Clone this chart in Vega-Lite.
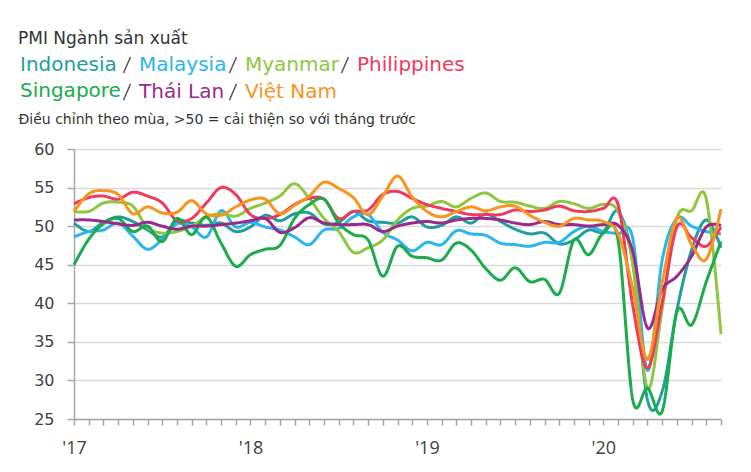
{
  "$schema": "https://vega.github.io/schema/vega-lite/v6.json",
  "width": 647,
  "height": 270,
  "autosize": {"type": "none"},
  "padding": {"left": 74, "top": 149, "right": 30, "bottom": 53},
  "background": "white",
  "title": {"text": "PMI Ngành sản xuất", "anchor": "start", "frame": "group", "dx": -56, "font": "DejaVu Sans", "fontSize": 17, "fontWeight": "normal", "color": "#333333", "offset": 7},
  "data": {"values": [
    {"month": "2017-01", "Indonesia": 50.4, "Malaysia": 48.6, "Myanmar": 51.9, "Philippines": 52.9, "Singapore": 45.0, "Thái Lan": 50.8, "Việt Nam": 51.9},
    {"month": "2017-02", "Indonesia": 49.3, "Malaysia": 49.3, "Myanmar": 51.9, "Philippines": 53.7, "Singapore": 48.3, "Thái Lan": 50.8, "Việt Nam": 54.2},
    {"month": "2017-03", "Indonesia": 50.5, "Malaysia": 49.5, "Myanmar": 53.0, "Philippines": 53.9, "Singapore": 50.3, "Thái Lan": 50.6, "Việt Nam": 54.6},
    {"month": "2017-04", "Indonesia": 51.2, "Malaysia": 50.4, "Myanmar": 53.1, "Philippines": 53.5, "Singapore": 51.0, "Thái Lan": 50.3, "Việt Nam": 54.1},
    {"month": "2017-05", "Indonesia": 50.6, "Malaysia": 48.7, "Myanmar": 52.6, "Philippines": 54.4, "Singapore": 49.3, "Thái Lan": 50.1, "Việt Nam": 51.6},
    {"month": "2017-06", "Indonesia": 49.5, "Malaysia": 47.0, "Myanmar": 49.8, "Philippines": 53.9, "Singapore": 50.0, "Thái Lan": 50.5, "Việt Nam": 52.5},
    {"month": "2017-07", "Indonesia": 48.6, "Malaysia": 48.3, "Myanmar": 49.1, "Philippines": 53.0, "Singapore": 48.0, "Thái Lan": 50.0, "Việt Nam": 51.7},
    {"month": "2017-08", "Indonesia": 50.7, "Malaysia": 50.3, "Myanmar": 49.3, "Philippines": 50.7, "Singapore": 51.0, "Thái Lan": 49.6, "Việt Nam": 51.8},
    {"month": "2017-09", "Indonesia": 50.4, "Malaysia": 49.9, "Myanmar": 50.0, "Philippines": 51.0, "Singapore": 48.9, "Thái Lan": 50.0, "Việt Nam": 53.3},
    {"month": "2017-10", "Indonesia": 50.1, "Malaysia": 48.6, "Myanmar": 51.2, "Philippines": 53.0, "Singapore": 51.2, "Thái Lan": 50.0, "Việt Nam": 51.6},
    {"month": "2017-11", "Indonesia": 50.4, "Malaysia": 52.0, "Myanmar": 51.6, "Philippines": 55.0, "Singapore": 47.8, "Thái Lan": 50.2, "Việt Nam": 51.4},
    {"month": "2017-12", "Indonesia": 49.3, "Malaysia": 49.9, "Myanmar": 51.3, "Philippines": 54.1, "Singapore": 44.8, "Thái Lan": 50.4, "Việt Nam": 52.5},
    {"month": "2018-01", "Indonesia": 49.9, "Malaysia": 50.5, "Myanmar": 52.3, "Philippines": 51.5, "Singapore": 46.3, "Thái Lan": 50.7, "Việt Nam": 53.4},
    {"month": "2018-02", "Indonesia": 51.4, "Malaysia": 49.9, "Myanmar": 53.0, "Philippines": 51.0, "Singapore": 47.0, "Thái Lan": 51.0, "Việt Nam": 53.5},
    {"month": "2018-03", "Indonesia": 50.7, "Malaysia": 49.5, "Myanmar": 53.9, "Philippines": 51.5, "Singapore": 47.5, "Thái Lan": 49.2, "Việt Nam": 51.6},
    {"month": "2018-04", "Indonesia": 51.6, "Malaysia": 48.6, "Myanmar": 55.5, "Philippines": 52.8, "Singapore": 51.0, "Thái Lan": 49.8, "Việt Nam": 52.7},
    {"month": "2018-05", "Indonesia": 51.7, "Malaysia": 47.6, "Myanmar": 53.6, "Philippines": 53.6, "Singapore": 52.8, "Thái Lan": 51.1, "Việt Nam": 53.9},
    {"month": "2018-06", "Indonesia": 50.3, "Malaysia": 49.5, "Myanmar": 51.0, "Philippines": 53.5, "Singapore": 53.5, "Thái Lan": 50.4, "Việt Nam": 55.7},
    {"month": "2018-07", "Indonesia": 50.5, "Malaysia": 49.7, "Myanmar": 49.3, "Philippines": 51.0, "Singapore": 50.4, "Thái Lan": 50.2, "Việt Nam": 54.9},
    {"month": "2018-08", "Indonesia": 51.9, "Malaysia": 51.2, "Myanmar": 46.6, "Philippines": 51.9, "Singapore": 48.9, "Thái Lan": 50.2, "Việt Nam": 53.7},
    {"month": "2018-09", "Indonesia": 50.7, "Malaysia": 51.5, "Myanmar": 47.2, "Philippines": 52.1, "Singapore": 48.2, "Thái Lan": 50.2, "Việt Nam": 51.5},
    {"month": "2018-10", "Indonesia": 50.5, "Malaysia": 49.2, "Myanmar": 48.2, "Philippines": 54.1, "Singapore": 43.5, "Thái Lan": 49.3, "Việt Nam": 53.9},
    {"month": "2018-11", "Indonesia": 50.4, "Malaysia": 48.2, "Myanmar": 50.8, "Philippines": 54.5, "Singapore": 47.4, "Thái Lan": 50.0, "Việt Nam": 56.5},
    {"month": "2018-12", "Indonesia": 51.2, "Malaysia": 46.8, "Myanmar": 52.3, "Philippines": 53.6, "Singapore": 46.1, "Thái Lan": 50.4, "Việt Nam": 53.8},
    {"month": "2019-01", "Indonesia": 49.9, "Malaysia": 47.9, "Myanmar": 52.6, "Philippines": 52.8, "Singapore": 45.9, "Thái Lan": 50.6, "Việt Nam": 51.9},
    {"month": "2019-02", "Indonesia": 50.1, "Malaysia": 47.6, "Myanmar": 53.2, "Philippines": 52.3, "Singapore": 45.6, "Thái Lan": 50.4, "Việt Nam": 51.2},
    {"month": "2019-03", "Indonesia": 51.2, "Malaysia": 49.4, "Myanmar": 52.5, "Philippines": 51.9, "Singapore": 47.8, "Thái Lan": 50.8, "Việt Nam": 51.9},
    {"month": "2019-04", "Indonesia": 50.4, "Malaysia": 49.0, "Myanmar": 53.6, "Philippines": 51.5, "Singapore": 46.9, "Thái Lan": 51.0, "Việt Nam": 52.5},
    {"month": "2019-05", "Indonesia": 51.6, "Malaysia": 48.8, "Myanmar": 54.3, "Philippines": 51.5, "Singapore": 44.5, "Thái Lan": 51.0, "Việt Nam": 52.0},
    {"month": "2019-06", "Indonesia": 50.6, "Malaysia": 47.8, "Myanmar": 53.2, "Philippines": 51.5, "Singapore": 43.0, "Thái Lan": 50.8, "Việt Nam": 52.5},
    {"month": "2019-07", "Indonesia": 49.6, "Malaysia": 47.6, "Myanmar": 53.1, "Philippines": 52.1, "Singapore": 44.6, "Thái Lan": 50.4, "Việt Nam": 52.6},
    {"month": "2019-08", "Indonesia": 49.0, "Malaysia": 47.4, "Myanmar": 52.6, "Philippines": 51.9, "Singapore": 42.8, "Thái Lan": 50.2, "Việt Nam": 51.4},
    {"month": "2019-09", "Indonesia": 49.1, "Malaysia": 47.9, "Myanmar": 52.3, "Philippines": 52.1, "Singapore": 43.1, "Thái Lan": 50.6, "Việt Nam": 50.5},
    {"month": "2019-10", "Indonesia": 47.7, "Malaysia": 47.9, "Myanmar": 53.2, "Philippines": 52.6, "Singapore": 41.3, "Thái Lan": 50.2, "Việt Nam": 50.0},
    {"month": "2019-11", "Indonesia": 48.2, "Malaysia": 49.3, "Myanmar": 52.9, "Philippines": 52.0, "Singapore": 48.2, "Thái Lan": 50.2, "Việt Nam": 51.0},
    {"month": "2019-12", "Indonesia": 49.5, "Malaysia": 50.0, "Myanmar": 52.3, "Philippines": 51.9, "Singapore": 46.3, "Thái Lan": 50.0, "Việt Nam": 50.8},
    {"month": "2020-01", "Indonesia": 49.3, "Malaysia": 49.3, "Myanmar": 52.8, "Philippines": 52.3, "Singapore": 49.1, "Thái Lan": 50.2, "Việt Nam": 50.6},
    {"month": "2020-02", "Indonesia": 51.9, "Malaysia": 49.0, "Myanmar": 51.9, "Philippines": 52.8, "Singapore": 48.2, "Thái Lan": 50.1, "Việt Nam": 49.0},
    {"month": "2020-03", "Indonesia": 45.3, "Malaysia": 48.4, "Myanmar": 45.1, "Philippines": 39.7, "Singapore": 27.5, "Thái Lan": 46.7, "Việt Nam": 41.9},
    {"month": "2020-04", "Indonesia": 27.5, "Malaysia": 31.3, "Myanmar": 29.0, "Philippines": 31.6, "Singapore": 29.0, "Thái Lan": 36.8, "Việt Nam": 32.7},
    {"month": "2020-05", "Indonesia": 28.6, "Malaysia": 45.6, "Myanmar": 39.3, "Philippines": 40.1, "Singapore": 26.0, "Thái Lan": 41.8, "Việt Nam": 42.7},
    {"month": "2020-06", "Indonesia": 39.1, "Malaysia": 51.0, "Myanmar": 51.0, "Philippines": 49.9, "Singapore": 38.9, "Thái Lan": 43.5, "Việt Nam": 51.1},
    {"month": "2020-07", "Indonesia": 46.9, "Malaysia": 50.0, "Myanmar": 52.0, "Philippines": 48.5, "Singapore": 37.2, "Thái Lan": 46.1, "Việt Nam": 47.6},
    {"month": "2020-08", "Indonesia": 50.8, "Malaysia": 49.3, "Myanmar": 53.5, "Philippines": 47.4, "Singapore": 42.8, "Thái Lan": 49.9, "Việt Nam": 45.7},
    {"month": "2020-09", "Indonesia": 47.2, "Malaysia": 49.0, "Myanmar": 36.0, "Philippines": 49.9, "Singapore": 48.0, "Thái Lan": 50.1, "Việt Nam": 52.2}
  ]},
  "transform": [
    {"fold": ["Indonesia", "Malaysia", "Myanmar", "Philippines", "Singapore", "Thái Lan", "Việt Nam"], "as": ["country", "pmi"]},
    {"lookup": "country", "from": {"data": {"values": [
      {"key": "Indonesia", "name": "Indonesia"},
      {"key": "Malaysia", "name": "Malaysia"},
      {"key": "Myanmar", "name": "Myanmar"},
      {"key": "Philippines", "name": "Philippines"},
      {"key": "Singapore", "name": "Singapore"},
      {"key": "Thái Lan", "name": "Thái Lan"},
      {"key": "Việt Nam", "name": "Việt Nam"}
    ]}, "key": "key", "fields": ["name"]}}
  ],
  "mark": {"type": "line", "interpolate": "cardinal", "strokeWidth": 3},
  "encoding": {
    "x": {
      "field": "month", "type": "ordinal",
      "scale": {"type": "point", "padding": 0},
      "axis": {
        "title": null,
        "labelExpr": "slice(datum.value, 5) == '01' ? \"'\" + slice(datum.value, 2, 4) : ''",
        "labelAngle": 0, "labelFont": "Open Sans", "labelFontSize": 18, "labelColor": "#404040",
        "labelPadding": 14, "labelOverlap": false, "labelFlush": false,
        "tickSize": 6, "tickColor": "#a6a6a6", "tickWidth": 1.5,
        "domainColor": "#a6a6a6", "domainWidth": 1.5, "grid": false
      }
    },
    "y": {
      "field": "pmi", "type": "quantitative",
      "scale": {"domain": [25, 60], "nice": false, "zero": false},
      "axis": {
        "title": "Điều chỉnh theo mùa, >50 = cải thiện so với tháng trước",
        "titleAngle": 0, "titleAlign": "left", "titleBaseline": "alphabetic",
        "titleX": -56, "titleY": -26,
        "titleFont": "DejaVu Sans", "titleFontSize": 14, "titleFontWeight": "normal", "titleColor": "#333333",
        "values": [25, 30, 35, 40, 45, 50, 55, 60],
        "labelFont": "DejaVu Sans", "labelFontSize": 16, "labelColor": "#404040", "labelPadding": 13,
        "tickSize": 7, "tickColor": "#a6a6a6", "tickWidth": 1.5,
        "domainColor": "#a6a6a6", "domainWidth": 1.5,
        "gridColor": "#d9d9d9", "gridWidth": 1.5
      }
    },
    "color": {
      "field": "country", "type": "nominal",
      "scale": {
        "domain": ["Indonesia", "Malaysia", "Myanmar", "Philippines", "Singapore", "Thái Lan", "Việt Nam"],
        "range": ["#1f9e9e", "#29b5ef", "#8dc63f", "#ef3a5d", "#1aab4b", "#982a8c", "#f7941d"]
      },
      "legend": null
    },
    "strokeDash": {
      "field": "name", "type": "nominal",
      "scale": {
        "range": [[1, 0], [1, 0], [1, 0], [1, 0], [1, 0], [1, 0], [1, 0]]
      },
      "legend": {
        "orient": "none", "legendX": -79, "legendY": -94,
        "direction": "horizontal", "columns": 4, "gridAlign": "none",
        "columnPadding": -7, "rowPadding": 5,
        "symbolType": "M0.7,-1.6L-0.7,1.6", "symbolSize": 100, "symbolStrokeWidth": 1.5, "symbolOffset": 3,
        "symbolStrokeColor": "#595959", "symbolFillColor": "transparent",
        "symbolOpacity": {"expr": "datum.value == 'Indonesia' || datum.value == 'Singapore' ? 0 : 1"},
        "labelOffset": 2, "labelFont": "DejaVu Sans", "labelFontSize": 20, "labelLimit": 0,
        "labelColor": {"expr": "scale('color', datum.value)"},
        "title": null
      }
    }
  },
  "config": {"view": {"stroke": null}}
}
